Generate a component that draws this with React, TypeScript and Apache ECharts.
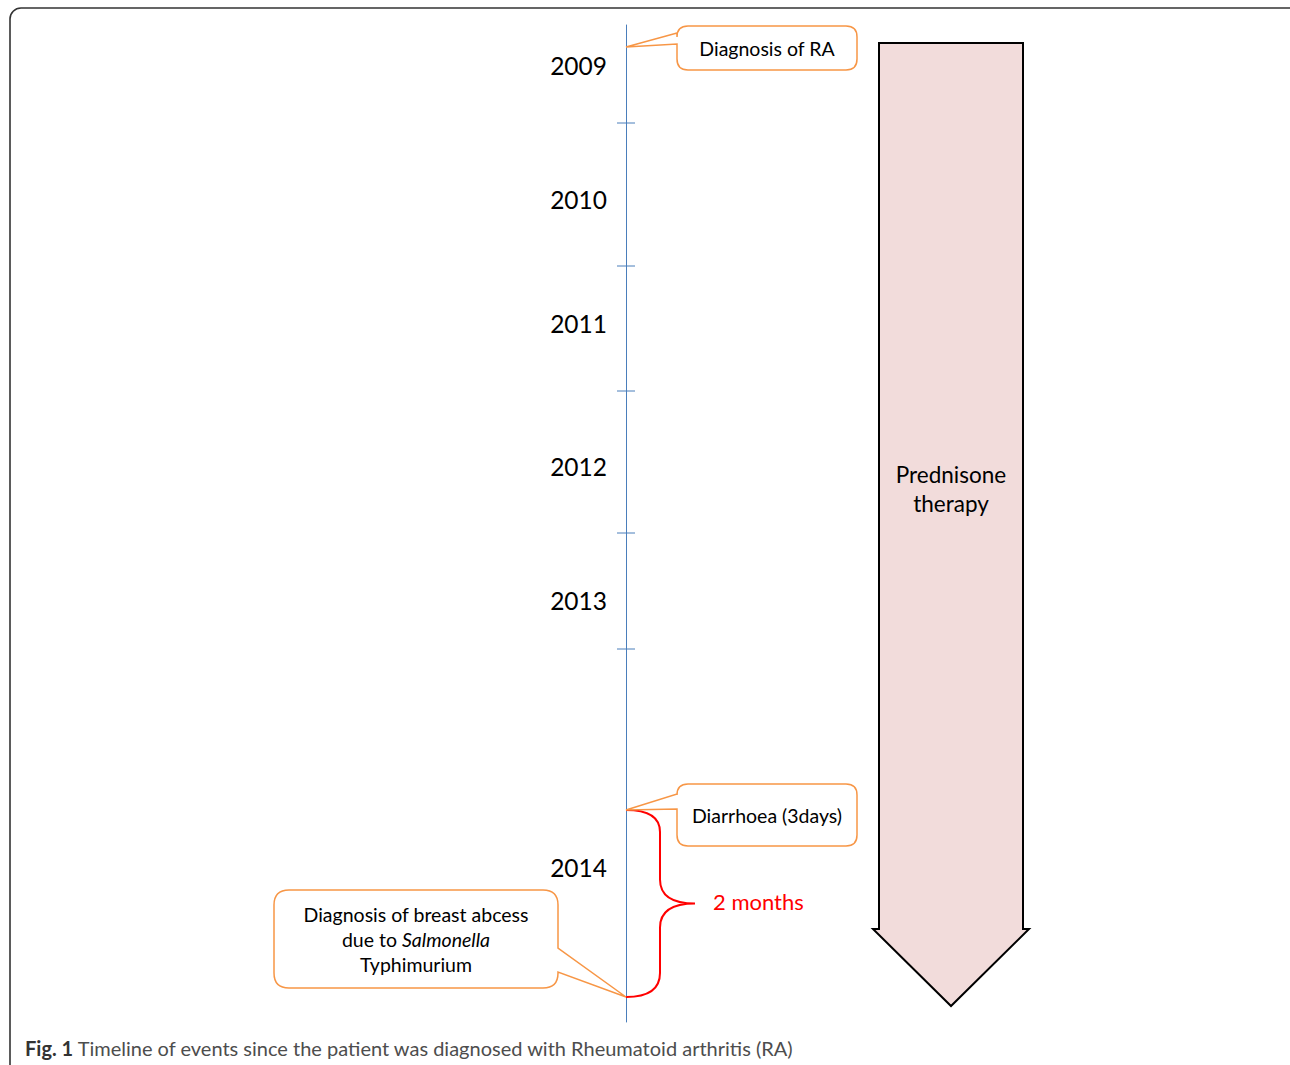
import React, { useEffect, useRef } from "react";
import * as echarts from "echarts";

// ---- data (timeline positions in timeline units along the vertical axis) ----
const years = ["2009", "2010", "2011", "2012", "2013", "2014"];
const yearPos = [41, 175, 299, 442, 576, 843];
const tickPos = [98, 241, 366, 508, 624];
const eventLabels = ["Diagnosis of RA", "Diarrhoea (3days)", "Diagnosis of breast abcess\ndue to {i|Salmonella}\nTyphimurium"];
const eventPos = [22, 785, 972];
const intervalLabel = "2 months";
const intervalRange = [785, 972];
const therapyLabel = "Prednisone\ntherapy";
const therapyRange = [18, 981];
const caption = "{b|Fig. 1} Timeline of events since the patient was diagnosed with Rheumatoid arthritis (RA)";

const AXIS_MAX = 997;
const FONT = "Lato, 'Open Sans', sans-serif";

// callout layouts: relative to pointer tip
const calloutLayout = [
  { x0: 51, x1: 231, top: -21, bottom: 23, pb1: -14, pb2: -3, side: "left", r: 11 },
  { x0: 51, x1: 231, top: -26, bottom: 36, pb1: -16, pb2: -1, side: "left", r: 11 },
  { x0: -352, x1: -68, top: -107, bottom: -9, pb1: -49, pb2: -25, side: "right", r: 15 },
];

function calloutPath(tx: number, ty: number, L: any) {
  const x0 = tx + L.x0, x1 = tx + L.x1, y0 = ty + L.top, y1 = ty + L.bottom, r = L.r;
  const p1 = ty + L.pb1, p2 = ty + L.pb2;
  if (L.side === "left") {
    return `M${x0 + r},${y0} H${x1 - r} Q${x1},${y0} ${x1},${y0 + r} V${y1 - r} Q${x1},${y1} ${x1 - r},${y1} H${x0 + r} Q${x0},${y1} ${x0},${y1 - r} V${p2} L${tx},${ty} L${x0},${p1} V${y0 + r} Q${x0},${y0} ${x0 + r},${y0} Z`;
  }
  return `M${x0 + r},${y0} H${x1 - r} Q${x1},${y0} ${x1},${y0 + r} V${p1} L${tx},${ty} L${x1},${p2} V${y1 - r} Q${x1},${y1} ${x1 - r},${y1} H${x0 + r} Q${x0},${y1} ${x0},${y1 - r} V${y0 + r} Q${x0},${y0} ${x0 + r},${y0} Z`;
}

export default function App() {
  const ref = useRef<HTMLDivElement>(null);
  useEffect(() => {
    if (!ref.current) return;
    const chart = echarts.init(ref.current, null, { renderer: "svg" });
    const option: any = {
      animation: false,
      backgroundColor: "#ffffff",
      grid: { left: 626, right: 663, top: 25, bottom: 43 },
      xAxis: { type: "value", min: 0, max: 1, show: false },
      yAxis: {
        type: "value",
        inverse: true,
        min: 0,
        max: AXIS_MAX,
        position: "left",
        axisLine: { show: true, lineStyle: { color: "#4a7ebb", width: 1 } },
        axisTick: { show: false },
        axisLabel: { show: false },
        splitLine: { show: false },
      },
      graphic: [
        {
          type: "rect",
          shape: { x: 10, y: 8, width: 1300, height: 1100, r: 11 },
          style: { fill: "none", stroke: "#333333", lineWidth: 1.6 },
          silent: true,
        },
        {
          type: "text",
          left: 25,
          top: 1038,
          style: {
            text: caption,
            font: `20px ${FONT}`,
            fill: "#4d4d4d",
            rich: {
              b: { fontWeight: "bold", fontSize: 20, fontFamily: FONT, fill: "#333333" },
            },
          },
        },
      ],
      series: [
        {
          type: "custom",
          name: "therapy",
          data: [[0, therapyRange[0], therapyRange[1]]],
          renderItem: (params: any, api: any) => {
            const top = api.coord([0, api.value(1)]);
            const tip = api.coord([0, api.value(2)]);
            const cx = top[0] + 325;
            const bodyHalf = 72, headHalf = 78, headH = 77;
            const baseY = tip[1] - headH;
            const d = `M${cx - bodyHalf},${top[1]} H${cx + bodyHalf} V${baseY} H${cx + headHalf} L${cx},${tip[1]} L${cx - headHalf},${baseY} H${cx - bodyHalf} Z`;
            return {
              type: "group",
              children: [
                { type: "path", shape: { pathData: d }, style: { fill: "#f2dcdb", stroke: "#000000", lineWidth: 2 } },
                {
                  type: "text",
                  x: cx,
                  y: 489,
                  style: {
                    text: therapyLabel,
                    font: `22.5px ${FONT}`,
                    fill: "#000000",
                    align: "center",
                    verticalAlign: "middle",
                    lineHeight: 29,
                  },
                },
              ],
            };
          },
        },
        {
          type: "custom",
          name: "ticks",
          data: tickPos.map((p) => [0, p]),
          renderItem: (params: any, api: any) => {
            const c = api.coord([0, api.value(1)]);
            return {
              type: "line",
              shape: { x1: c[0] - 9, y1: c[1], x2: c[0] + 9, y2: c[1] },
              style: { stroke: "#4a7ebb", lineWidth: 1 },
            };
          },
        },
        {
          type: "custom",
          name: "years",
          data: yearPos.map((p, i) => [0, p, i]),
          renderItem: (params: any, api: any) => {
            const c = api.coord([0, api.value(1)]);
            return {
              type: "text",
              x: c[0] - 19,
              y: c[1] - 1,
              style: {
                text: years[params.dataIndex],
                font: `24.5px ${FONT}`,
                fill: "#000000",
                align: "right",
                verticalAlign: "middle",
              },
            };
          },
        },
        {
          type: "custom",
          name: "interval",
          data: [[0, intervalRange[0], intervalRange[1]]],
          renderItem: (params: any, api: any) => {
            const a = api.coord([0, api.value(1)]);
            const b = api.coord([0, api.value(2)]);
            const x = a[0];
            const y0 = a[1], y1 = b[1];
            const mid = (y0 + y1) / 2;
            const d = `M${x},${y0} Q${x + 34},${y0} ${x + 34},${y0 + 22} V${mid - 24} Q${x + 34},${mid} ${x + 69},${mid} Q${x + 34},${mid} ${x + 34},${mid + 24} V${y1 - 24} Q${x + 34},${y1} ${x},${y1}`;
            return {
              type: "group",
              children: [
                { type: "path", shape: { pathData: d }, style: { fill: "none", stroke: "#ff0000", lineWidth: 2 } },
                {
                  type: "text",
                  x: x + 87,
                  y: mid - 2,
                  style: { text: intervalLabel, font: `22px ${FONT}`, fill: "#ff0000", align: "left", verticalAlign: "middle" },
                },
              ],
            };
          },
        },
        {
          type: "custom",
          name: "events",
          data: eventPos.map((p, i) => [0, p, i]),
          renderItem: (params: any, api: any) => {
            const i = params.dataIndex;
            const c = api.coord([0, api.value(1)]);
            const L = calloutLayout[i];
            const tx = c[0], ty = c[1];
            const cx = tx + (L.x0 + L.x1) / 2;
            const cy = ty + (L.top + L.bottom) / 2;
            return {
              type: "group",
              children: [
                { type: "path", shape: { pathData: calloutPath(tx, ty, L) }, style: { fill: "#ffffff", stroke: "#f79646", lineWidth: 1.5 } },
                {
                  type: "text",
                  x: cx,
                  y: cy,
                  style: {
                    text: eventLabels[i],
                    font: `19.5px ${FONT}`,
                    fill: "#000000",
                    align: "center",
                    verticalAlign: "middle",
                    lineHeight: 25,
                    rich: { i: { fontStyle: "italic", fontSize: 19.5, fontFamily: FONT, fill: "#000000" } },
                  },
                },
              ],
            };
          },
        },
      ],
    };
    chart.setOption(option);
    return () => chart.dispose();
  }, []);
  return <div ref={ref} style={{ position: "absolute", left: 0, top: 0, width: 1290, height: 1065 }} />;
}
